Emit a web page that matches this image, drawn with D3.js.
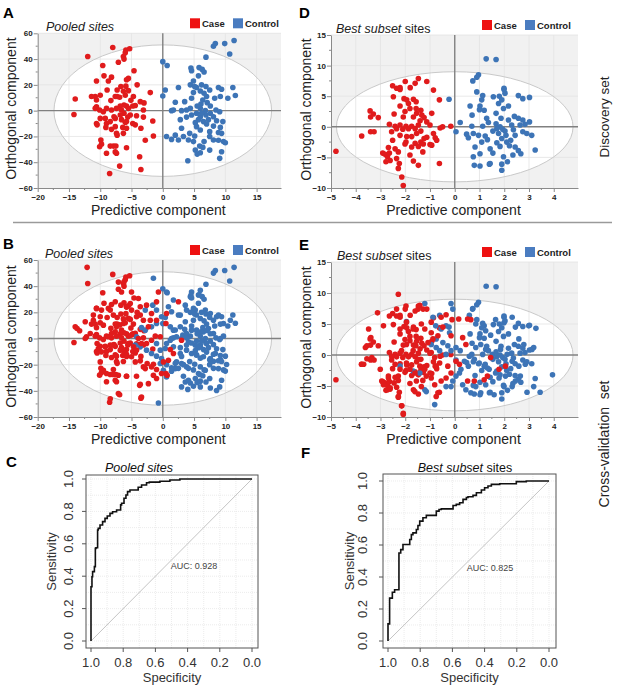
<!DOCTYPE html>
<html>
<head>
<meta charset="utf-8">
<script src="https://cdn.jsdelivr.net/npm/d3@7"></script>
<style>
  body { margin: 0; background: #fff; }
  text { font-family: "Liberation Sans", Arial, sans-serif; }
</style>
</head>
<body>
<svg id="fig" width="617" height="691"></svg>
<script>
// ---- data ----
const pooledXTicks = [-20, -15, -10, -5, 0, 5, 10, 15];
const pooledYTicks = [-60, -40, -20, 0, 20, 40, 60];
const bestXTicks = [-5, -4, -3, -2, -1, 0, 1, 2, 3, 4];
const bestYTicks = [-10, -5, 0, 5, 10, 15];
const rocTicks = [1, 0.8, 0.6, 0.4, 0.2, 0];

// pooled sites, discovery set (panel A)
const pooledDiscCase = [[-8.0,49],[-12.0,42],[-6.0,45],[-5.9,47],[-5.3,48],[-6.3,42],[-6.2,40],[-7.1,37.6],[-4.6,31],[-9.6,35],[-9.4,27],[-8.2,26],[-8.7,23],[-10.6,23],[-5.5,25],[-5.8,24],[-5.9,19],[-6.7,18.7],[-7.3,16],[-8.9,16],[-4.1,20],[-2.0,14],[-10.8,11],[-11.4,11],[-14.0,9],[-10.0,12],[-7.6,11],[-7.3,11],[-6.0,12],[-6.3,15],[-4.7,11],[-5.1,8],[-3.6,7],[-3.0,6],[-4.4,4],[-5.8,3.6],[-6.2,4.4],[-6.8,3.6],[-7.4,1.8],[-8.2,0.5],[-9.0,1.8],[-10.6,3],[-10.8,1.8],[-10.1,0.5],[-6.6,0.5],[-5.5,1.8],[-3.1,0.5],[-14.2,-3],[-6.2,-2],[-5.2,-3.4],[-4.2,-4],[-3.1,-5],[-1.6,-8],[-9.2,-6],[-10.0,-6],[-7.6,-6],[-6.6,-7],[-5.8,-8.5],[-4.4,-11],[-4.8,-10],[-10.6,-10],[-10.5,-11],[-9.0,-10],[-9.1,-13],[-7.6,-12.4],[-6.4,-13],[-8.2,-14.5],[-7.4,-17.6],[-6.3,-17.6],[-5.8,-13.7],[-3.5,-13.7],[-1.5,-19.7],[-7.3,-19],[-9.9,-22.8],[-9.8,-26],[-10.1,-28],[-8.4,-27.5],[-7.9,-27.5],[-7.5,-27.5],[-2.8,-23],[-5.8,-28.8],[-9.0,-33],[-7.4,-33],[-7.6,-32],[-3.7,-35.8],[-6.9,-43],[-3.5,-45.6],[-8.5,-48.7],[-6.0,-9],[-8.4,-8.5],[-7.8,-4.7],[-9.5,-0.8],[-6.8,-3.4],[-5.6,-5],[-10.6,8.3],[-5.5,15.5],[-6.9,10.4],[-8.3,7.8],[-4.8,3.6]];
const pooledDiscControl = [[8.4,52],[8.1,50],[9.9,52],[11.4,54.4],[10.7,44],[6.9,41.5],[0,38],[0.7,35],[4.5,33],[4.6,31],[5.8,33.4],[6.3,32],[6.6,30],[5.7,27],[4.9,23],[4.4,20],[6.2,20],[6.9,18.7],[5.4,18],[2.5,18],[0.4,16],[8.9,18],[11.2,18],[9.4,16.6],[7.5,16],[6.0,15.3],[4.9,14],[6.6,13.5],[0,11.4],[7.0,11],[9.2,11],[11.6,11.7],[10.4,9.6],[2.0,6.5],[3.5,7],[4.6,9.6],[6.4,8.3],[7.1,6.2],[6.1,5.2],[1.4,0],[3.0,0],[4.4,1.8],[6.0,1.8],[8.5,0.5],[9.1,-0.8],[7.6,-2],[5.4,-2],[4.6,-3.4],[3.8,-5],[6.0,-5],[6.9,-3.4],[8.1,-4.7],[2.8,-7],[5.7,-7],[6.5,-8.5],[7.3,-7],[8.6,-7.8],[9.6,-8.5],[5.2,-9.3],[7.0,-10.4],[3.0,-13.7],[5.4,-12.4],[8.1,-12],[9.2,-13],[6.0,-15],[7.5,-16.3],[8.9,-17],[9.4,-17.6],[4.3,-17.6],[0.6,-20],[1.4,-22.3],[2.0,-19],[2.5,-22.8],[3.3,-20],[5.1,-19.7],[7.5,-20],[8.1,-22.8],[8.9,-23],[9.7,-24],[10.0,-24.9],[6.6,-24],[4.9,-24],[4.1,-22.8],[5.9,-27.5],[6.4,-28.5],[7.5,-30.6],[5.2,-30.6],[5.5,-33.7],[6.0,-32.6],[9.4,-31.9],[9.1,-37],[4.0,-38.9],[3.8,0.5],[5.5,3.6],[7.6,3.6],[6.8,0],[6.2,-2],[1.7,0.5],[8.3,9.6],[5.1,18.7]];

// pooled sites, extra cross-validation samples (panel B = A + these)
const pooledCvCase = [[-12.1,54.4],[-7.1,43.1],[-6.2,43.4],[-5.0,35.5],[-6.6,35.5],[-0.7,35.5],[-3.9,30.6],[-7.6,28.1],[-6.2,27.3],[-5.2,26.8],[-6.7,25.5],[-5.8,24.3],[-5.0,21.7],[-3.6,24.3],[-1.0,28],[2.5,28.1],[-2.6,25.5],[-1.8,19.1],[-1.0,14],[0.5,11.5],[0.6,19.1],[-2.3,8.9],[-12.2,1.3],[-13.7,7.7],[-13.3,5.9],[-12.4,0],[-11.6,3.8],[-11.1,14],[-12.4,12.8],[-9.5,10.2],[-8.7,1.3],[-7.6,5.1],[-8.2,3.8],[-6.6,6.4],[-5.0,2.6],[-3.9,0],[-3.4,-3.8],[-2.6,-3.8],[-1.8,-1.3],[-1.2,1.8],[-0.4,1.3],[1.2,-8.4],[1.7,-11.5],[0.9,-16.6],[3.0,-1.3],[0.1,-17.9],[0.5,-26.8],[0.7,-28.1],[-0.2,-26.8],[-1.0,-23.7],[-1.8,-21.7],[-2.5,-19.1],[-3.1,-21.7],[-3.6,-17.1],[-4.4,-17.9],[-5.0,-14.0],[-5.8,-12.0],[-6.3,-8.9],[-6.8,-8.9],[-7.4,-13.5],[-7.9,-5.1],[-8.4,-5.1],[-9.2,-6.4],[-10.3,-7.7],[-10.5,-3.8],[-9.8,-10.2],[-10.0,-17.9],[-9.5,-24.3],[-9.0,-26.8],[-7.9,-23.7],[-7.1,-28.1],[-5.8,-28.8],[-4.2,-28.8],[-3.6,-35],[-2.3,-34.5],[-7.1,-42.1],[-3.4,-44.7],[-8.4,-46],[-1.5,-28.1],[-1.0,-30.6],[-4.7,-6.4],[-4.2,-8.9],[-5.5,-3.8],[-7.4,8.9],[-6.3,11.5],[-5.2,14.6],[-4.2,16.6],[-3.1,14.0],[-3.6,17.9],[-7.9,17.9],[-8.4,21.7],[-9.8,21.7],[-10.6,23.0],[-11.1,17.9],[-10.0,16.6]];
const pooledCvControl = [[-1.5,46],[-0.7,-49.3],[-1.6,25.5],[-2.8,21.7],[-1.0,21.7],[-0.2,16.6],[-1.0,11.5],[-1.8,8.9],[-3.4,8.4],[-2.8,6.4],[-4.2,1.3],[-4.4,-5.1],[-3.6,-6.4],[-2.6,-8.9],[-1.8,-11.5],[-1.0,-13.5],[-0.4,-8.9],[0.4,-7.7],[0.6,-3.8],[-1.0,-3.8],[-0.2,-15.3],[-0.4,-19.1],[0.1,-24.3],[0.6,-29.4],[1.4,-25.0],[2.0,-23.0],[3.3,-28.8],[3.6,-33.2],[4.1,-31.9],[3.0,-37.0],[4.4,-34.0],[6.0,-37.0],[7.6,-37.8],[8.6,-39.8],[6.9,-33.2],[4.9,-36.5],[1.4,20.4],[0.9,24.3],[1.7,29.4],[0.6,35.5],[2.8,17.9],[3.6,25.5],[4.4,31.9],[4.6,35.5],[6.0,36.8],[5.7,33.2],[5.2,21.7],[3.8,21.7],[2.8,8.9],[3.6,12.8],[1.7,6.4],[1.2,8.9],[2.2,1.3],[3.2,2.6],[3.8,3.8],[4.6,6.4],[5.4,6.4],[6.5,5.1],[7.3,7.7],[8.1,3.8],[9.2,0],[9.7,1.8],[6.8,21.7],[7.6,19.1],[8.1,14],[8.6,16.6],[9.7,11.5],[10.8,14.0],[3.8,-8.9],[4.6,-11.5],[5.4,-12.8],[6.5,-14],[7.6,-15.3],[8.4,-11.5],[6.0,-6.4],[7.0,-3.8],[5.2,-5.1],[4.1,-2.6],[2.8,-11.5],[2.2,-17.9],[3.0,-19.1],[3.8,-21.7],[6.0,-21.7],[6.8,-24.3],[8.1,-17.4],[9.2,-16.1],[10.0,-13.5],[10.2,-19.9],[5.7,-26.8],[1.7,-6.4],[1.2,-1.3]];

// best subset sites, discovery set (panel D)
const bestDiscCase = [[-4.8,-4.0],[-3.76,-1.5],[-3.4,-0.8],[-3.26,-0.8],[-3.42,2.6],[-3.29,2.1],[-3.09,1.5],[-3.4,1.6],[-2.91,-4.3],[-2.82,-4.5],[-2.72,-4.9],[-2.64,-4.3],[-2.68,-3.4],[-2.61,-5.5],[-2.78,-5.7],[-2.51,-2.2],[-2.41,-3.6],[-2.28,-4.1],[-2.35,-5.2],[-2.24,-6.0],[-2.28,-6.8],[-2.14,-8.2],[-2.08,-9.6],[-2.64,0.4],[-2.41,0.1],[-2.35,-0.3],[-2.21,0.3],[-2.1,-0.4],[-1.97,0.1],[-1.87,-0.3],[-1.74,0.1],[-1.6,-0.3],[-1.47,0.3],[-1.4,1.0],[-1.67,1.6],[-1.54,2.2],[-1.37,2.7],[-1.56,3.0],[-1.33,1.9],[-1.24,1.5],[-1.13,0.8],[-1.0,0.3],[-0.86,-1.1],[-0.79,-1.8],[-0.73,-2.2],[-0.93,-3.0],[-0.59,-0.2],[-0.49,0],[-0.16,0.1],[-0.62,-6.0],[-0.86,6.0],[-0.62,4.4],[-0.93,2.2],[-1.13,7.4],[-1.47,7.9],[-1.6,7.1],[-1.8,6.4],[-2.0,7.4],[-2.21,6.4],[-2.35,6.3],[-2.51,6.7],[-2.21,6.1],[-2.48,4.9],[-2.05,4.6],[-1.94,4.4],[-1.67,4.5],[-1.56,4.1],[-1.87,3.8],[-2.21,3.4],[-1.81,3.0],[-2.45,2.1],[-2.08,1.6],[-2.01,2.5],[-1.94,-1.6],[-2.21,-1.4],[-1.74,-1.6],[-1.97,-2.5],[-1.6,-2.7],[-1.37,-2.5],[-1.27,-2.8],[-1.47,-3.2],[-1.74,-3.3],[-2.01,-2.8],[-1.24,-1.9],[-1.0,-2.9],[-1.81,-4.6],[-1.67,-5.6],[-1.47,-6.3],[-1.29,-4.1],[-2.55,-0.8],[-1.54,-1.1],[-1.37,-0.7],[-1.13,-1.7]];
const bestDiscControl = [[1.27,11.1],[1.67,11.0],[0.96,8.5],[0.89,8.1],[0.73,7.5],[-0.23,4.5],[0.05,-0.8],[0.22,0.7],[0.62,3.4],[0.7,1.9],[0.69,0.1],[0.48,-1.2],[0.55,-1.8],[0.75,-1.1],[0.82,-3.3],[0.75,-4.9],[0.79,-6.3],[1.02,-4.4],[1.02,-6.4],[0.96,-1.4],[0.89,5.7],[1.13,5.1],[1.09,4.4],[1.02,3.4],[1.0,2.8],[1.19,2.7],[1.29,1.4],[1.36,0.7],[1.13,0.1],[1.23,-1.5],[1.32,-2.1],[1.09,-2.5],[1.43,-3.6],[1.54,-4.3],[1.43,-6.0],[1.56,4.9],[1.8,5.0],[1.77,3.8],[1.9,4.4],[1.99,6.1],[2.03,5.5],[1.99,6.3],[2.17,3.4],[1.97,3.0],[1.67,2.2],[1.87,1.4],[1.67,0.5],[1.83,0],[1.94,-0.4],[1.7,-0.3],[1.54,-0.7],[1.77,-1.1],[2.03,-0.7],[2.07,-1.4],[1.9,-1.9],[1.7,-2.6],[1.83,-3.2],[2.1,-2.5],[2.26,-2.2],[2.21,-3.1],[2.44,-3.3],[2.57,-3.9],[2.67,-4.4],[2.35,-4.6],[1.97,-4.9],[2.13,-5.7],[1.9,-6.1],[1.9,-7.1],[1.4,-6.1],[2.57,5.1],[2.75,4.6],[3.02,4.8],[2.41,1.7],[2.57,1.4],[2.75,1.1],[3.02,0.8],[2.84,0.4],[2.64,0.3],[2.3,0.3],[2.37,-0.5],[2.75,-0.8],[3.11,-1.4],[2.91,-1.1],[3.25,-3.8],[2.44,-1.4],[2.17,1.1]];

// best subset sites, extra cross-validation samples (panel E = D + these)
const bestCvCase = [[-2.28,9.8],[-3.12,6.8],[-1.97,7.9],[-2.35,7.4],[-2.64,6.3],[-2.88,4.7],[-3.48,4.2],[-3.39,2.8],[-3.55,1.5],[-3.61,1.2],[-3.35,-0.4],[-3.55,-0.6],[-3.77,-1.5],[-3.68,-1.5],[-3.01,-2.3],[-2.95,-4.2],[-2.88,-4.8],[-2.72,-5.6],[-2.61,-5.3],[-2.68,-3.7],[-2.45,-4.5],[-2.28,-6.7],[-2.15,-8.2],[-2.08,-9.4],[-2.28,-3.4],[-2.21,-2.3],[-2.41,-1.5],[-2.55,-0.2],[-2.15,0.7],[-1.95,1.7],[-1.81,2.3],[-1.57,1.5],[-1.68,0.7],[-1.48,-0.7],[-1.41,-1.8],[-1.21,-2.3],[-1.15,-3.4],[-0.95,-3.7],[-0.81,-4.8],[-0.68,-6.1],[-0.75,-6.7],[-0.55,-4.2],[-0.35,-3.7],[-0.15,-2.9],[-0.28,-1.8],[-0.61,-1.3],[-0.81,-0.4],[-0.95,0.4],[-1.08,2.0],[-0.88,2.6],[-0.68,3.1],[-0.48,4.5],[-0.55,6.1],[-0.35,6.5],[-0.11,5.7],[0.16,5.8],[0.52,5.8],[0.65,5.7],[0.32,2.8],[0.45,1.7],[0.19,-1.5],[0.52,-4.2],[0.79,-4.2],[1.19,-4.0],[1.32,-3.4],[1.45,-0.4],[1.79,-2.3],[2.05,-1.8],[-1.48,7.4],[-1.41,8.0],[-1.28,7.4],[-1.95,5.3],[-2.21,4.2],[-1.68,4.2],[-1.35,5.0],[-0.95,5.3],[-1.95,-1.3],[-1.81,-2.3],[-1.61,-2.9],[-1.55,-4.2],[-1.35,-5.1],[-1.61,-5.9],[-0.75,-1.8],[0.05,-1.0],[-0.15,3.1],[-1.21,4.2],[-0.95,3.6]];
const bestCvControl = [[-1.21,8.3],[-0.15,8.3],[-0.08,7.4],[-0.88,6.1],[-0.61,6.4],[-0.77,4.7],[-0.55,4.2],[-0.35,4.7],[-0.21,3.6],[-1.95,5.4],[-0.75,2.6],[-0.48,2.0],[-0.28,1.5],[-0.75,1.2],[-0.95,1.7],[-0.61,0.7],[-0.35,0.1],[-0.15,0.7],[0.05,1.2],[-2.21,-1.8],[-1.68,-2.6],[-1.41,-2.9],[-1.21,-5.6],[-1.15,-5.9],[-0.81,-8.0],[-0.35,-5.1],[-0.15,-5.1],[-0.08,-4.2],[0.05,-3.4],[0.19,-2.9],[0.32,-4.8],[0.45,-5.6],[0.65,-6.1],[0.85,-5.1],[1.05,-6.1],[1.25,-4.8],[1.59,-6.4],[0.72,7.4],[0.59,6.4],[0.85,5.0],[1.19,4.7],[1.25,3.9],[1.45,3.2],[1.65,5.7],[1.99,5.2],[2.32,6.1],[2.45,4.5],[2.99,4.7],[3.28,4.3],[2.59,2.6],[2.79,1.7],[3.12,0.9],[3.19,1.2],[3.95,-3.2],[3.45,-6.0],[2.92,-6.0],[3.19,-5.1],[2.65,-3.4],[2.45,-4.2],[2.32,-5.1],[1.99,-5.1],[2.05,-3.4],[1.79,-3.7],[0.59,-0.2],[0.79,-0.7],[0.99,-1.3],[1.19,-1.8],[1.39,-2.3],[1.65,-2.9],[0.85,1.2],[1.05,1.7],[1.25,0.9],[1.52,0.1],[1.85,0.9],[2.12,0.1],[2.32,-1.0],[2.59,-1.8],[2.85,-1.5],[0.39,-1.0],[0.25,-2.3]];

// ROC curves (specificity, sensitivity)
const rocPooledSpec = [1,1,0.994,0.990,0.979,0.973,0.969,0.959,0.955,0.944,0.928,0.913,0.899,0.882,0.866,0.841,0.816,0.810,0.795,0.783,0.773,0.758,0.748,0.707,0.686,0.655,0.638,0.572,0.510,0.448,0.428,0];
const rocPooledSens = [0,0.335,0.335,0.397,0.428,0.459,0.572,0.576,0.685,0.695,0.716,0.737,0.757,0.772,0.788,0.798,0.809,0.840,0.850,0.881,0.901,0.922,0.932,0.932,0.949,0.963,0.977,0.981,0.986,0.994,1,1];
const rocBestSpec = [1,1,0.990,0.990,0.973,0.969,0.959,0.948,0.932,0.932,0.921,0.907,0.890,0.865,0.855,0.845,0.824,0.814,0.803,0.783,0.762,0.741,0.700,0.683,0.669,0.596,0.576,0.555,0.534,0.513,0.503,0.472,0.451,0.420,0.400,0.379,0.358,0.306,0.203,0.141,0.099,0];
const rocBestSens = [0,0.107,0.107,0.268,0.268,0.305,0.305,0.320,0.320,0.519,0.550,0.571,0.603,0.603,0.634,0.665,0.676,0.697,0.722,0.749,0.770,0.785,0.785,0.812,0.822,0.826,0.847,0.854,0.864,0.885,0.897,0.902,0.910,0.927,0.944,0.958,0.969,0.979,0.983,0.996,1,1];
const aucPooled = 0.928;
const aucBest = 0.825;

const caseColor = "#e01b1c";
const controlColor = "#3d74b6";

const svg = d3.select("#fig");

// ---- OPLS-DA score plots ----
function scoresPanel(p) {
  const g = svg.append("g");
  const x = d3.scaleLinear().domain(p.xDom).range([p.left, p.right]);
  const y = d3.scaleLinear().domain(p.yDom).range([p.bottom, p.top]);

  g.append("rect")
    .attr("x", p.left).attr("y", p.top)
    .attr("width", p.right - p.left).attr("height", p.bottom - p.top)
    .attr("fill", "#f1f1f1");

  g.append("ellipse")
    .attr("cx", x(0)).attr("cy", y(0))
    .attr("rx", x(p.ell[0]) - x(0)).attr("ry", y(0) - y(p.ell[1]))
    .attr("fill", "#fff");

  // faint grid
  g.selectAll(".gx").data(p.xTicks.filter(d => d !== 0 && d !== p.xDom[0])).join("line")
    .attr("x1", d => x(d)).attr("x2", d => x(d))
    .attr("y1", p.top).attr("y2", p.bottom)
    .attr("stroke", "#e3e3e3").attr("stroke-width", 0.8);
  g.selectAll(".gy").data(p.yTicks.filter(d => d !== 0 && d !== p.yDom[0])).join("line")
    .attr("y1", d => y(d)).attr("y2", d => y(d))
    .attr("x1", p.left).attr("x2", p.right)
    .attr("stroke", "#e3e3e3").attr("stroke-width", 0.8);

  g.append("ellipse")
    .attr("cx", x(0)).attr("cy", y(0))
    .attr("rx", x(p.ell[0]) - x(0)).attr("ry", y(0) - y(p.ell[1]))
    .attr("fill", "none").attr("stroke", "#c9c9c9").attr("stroke-width", 1);

  // zero lines
  g.append("line").attr("x1", x(0)).attr("x2", x(0)).attr("y1", p.top).attr("y2", p.bottom)
    .attr("stroke", "#808080").attr("stroke-width", 1.4);
  g.append("line").attr("x1", p.left).attr("x2", p.right).attr("y1", y(0)).attr("y2", y(0))
    .attr("stroke", "#808080").attr("stroke-width", 1.4);

  // axes
  const ax = g.append("g").attr("transform", `translate(0,${p.bottom})`)
    .call(d3.axisBottom(x).tickValues(p.xTicks).tickSize(4).tickPadding(2).tickSizeOuter(0));
  const ay = g.append("g").attr("transform", `translate(${p.left},0)`)
    .call(d3.axisLeft(y).tickValues(p.yTicks).tickSize(4).tickPadding(1).tickSizeOuter(0));
  [ax, ay].forEach(a => {
    a.select(".domain").attr("stroke", "#8a8a8a");
    a.selectAll(".tick line").attr("stroke", "#8a8a8a");
    a.selectAll("text").attr("font-family", "Liberation Sans, Arial, sans-serif")
      .attr("font-size", 8).attr("font-weight", "bold").attr("fill", "#222");
  });
  // minor ticks
  g.selectAll(".mx").data(d3.pairs(p.xTicks).map(([a, b]) => (a + b) / 2)).join("line")
    .attr("x1", d => x(d)).attr("x2", d => x(d)).attr("y1", p.bottom).attr("y2", p.bottom + 2)
    .attr("stroke", "#8a8a8a");
  g.selectAll(".my").data(d3.pairs(p.yTicks).map(([a, b]) => (a + b) / 2)).join("line")
    .attr("y1", d => y(d)).attr("y2", d => y(d)).attr("x1", p.left - 2).attr("x2", p.left)
    .attr("stroke", "#8a8a8a");

  // points
  p.series.forEach(s => {
    g.append("g").selectAll("circle").data(s.pts).join("circle")
      .attr("cx", d => x(d[0])).attr("cy", d => y(d[1])).attr("r", 2.8)
      .attr("fill", s.color);
  });

  // axis titles
  g.append("text").attr("x", (p.left + p.right) / 2 - 1).attr("y", p.bottom + 27)
    .attr("text-anchor", "middle").attr("font-size", 14).attr("fill", "#222")
    .text("Predictive component");
  g.append("text")
    .attr("transform", `translate(${p.yTitleX},${(p.top + p.bottom) / 2 - 2}) rotate(-90)`)
    .attr("text-anchor", "middle").attr("font-size", 14).attr("fill", "#222")
    .text("Orthogonal component");

  // title
  const t = g.append("text").attr("x", p.titleX).attr("y", p.top - 2)
    .attr("font-size", 12.5).attr("fill", "#222");
  if (p.pooled) {
    t.append("tspan").attr("font-style", "italic").text("Pooled sites");
  } else {
    t.append("tspan").attr("font-style", "italic").text("Best subset");
    t.append("tspan").text(" sites");
  }

  // legend
  const lg = g.append("g").attr("transform", `translate(${p.legendX},${p.top - 15})`);
  lg.append("rect").attr("x", 0).attr("y", 0).attr("width", 10).attr("height", 10).attr("fill", "#ee1111");
  lg.append("text").attr("x", 12).attr("y", 9).attr("font-size", 9.5).attr("font-weight", "bold")
    .attr("fill", "#222").text("Case");
  lg.append("rect").attr("x", 43).attr("y", 0).attr("width", 10).attr("height", 10).attr("fill", "#4a7cc0");
  lg.append("text").attr("x", 55).attr("y", 9).attr("font-size", 9.5).attr("font-weight", "bold")
    .attr("fill", "#222").text("Control");

  // panel letter
  g.append("text").attr("x", p.letterX).attr("y", p.letterY)
    .attr("font-size", 15).attr("font-weight", "bold").attr("fill", "#000").text(p.letter);
}

scoresPanel({ letter: "A", letterX: 3, letterY: 18, pooled: true, titleX: 46, legendX: 190,
  left: 37.7, right: 281, top: 33.3, bottom: 188, yTitleX: 16,
  xDom: [-20, 18.9], yDom: [-60, 60], xTicks: pooledXTicks, yTicks: pooledYTicks, ell: [17.4, 51],
  series: [{ pts: pooledDiscCase, color: caseColor }, { pts: pooledDiscControl, color: controlColor }] });

scoresPanel({ letter: "D", letterX: 299, letterY: 18, pooled: false, titleX: 336, legendX: 482,
  left: 331, right: 578, top: 35, bottom: 188, yTitleX: 311,
  xDom: [-5, 4.98], yDom: [-10, 15], xTicks: bestXTicks, yTicks: bestYTicks, ell: [4.78, 9],
  series: [{ pts: bestDiscCase, color: caseColor }, { pts: bestDiscControl, color: controlColor }] });

scoresPanel({ letter: "B", letterX: 3, letterY: 249, pooled: true, titleX: 45, legendX: 190,
  left: 37.7, right: 281, top: 260, bottom: 417, yTitleX: 16,
  xDom: [-20, 18.9], yDom: [-60, 60], xTicks: pooledXTicks, yTicks: pooledYTicks, ell: [17.4, 51],
  series: [{ pts: pooledDiscCase, color: caseColor }, { pts: pooledCvControl, color: controlColor },
           { pts: pooledDiscControl, color: controlColor }, { pts: pooledCvCase, color: caseColor }] });

scoresPanel({ letter: "E", letterX: 299, letterY: 250, pooled: false, titleX: 337, legendX: 482,
  left: 331, right: 578, top: 262, bottom: 417, yTitleX: 311,
  xDom: [-5, 4.98], yDom: [-10, 15], xTicks: bestXTicks, yTicks: bestYTicks, ell: [4.78, 9],
  series: [{ pts: bestDiscCase, color: caseColor }, { pts: bestCvControl, color: controlColor },
           { pts: bestDiscControl, color: controlColor }, { pts: bestCvCase, color: caseColor }] });

// separator and row labels
svg.append("line").attr("x1", 13).attr("x2", 612).attr("y1", 222.5).attr("y2", 222.5)
  .attr("stroke", "#9a9a9a").attr("stroke-width", 1.5);
svg.append("text").attr("transform", "translate(609,117) rotate(-90)")
  .attr("text-anchor", "middle").attr("font-size", 13.5).attr("fill", "#222").text("Discovery set");
svg.append("text").attr("transform", "translate(609,444) rotate(-90)")
  .attr("text-anchor", "middle").attr("font-size", 14).attr("fill", "#222")
  .style("white-space", "pre").text("Cross-validation  set");

// ---- ROC curves ----
function rocPanel(p) {
  const g = svg.append("g");
  const x = d3.scaleLinear().domain([1, 0]).range([p.x1, p.x0]);
  const y = d3.scaleLinear().domain([0, 1]).range([p.y0, p.y1]);
  const grid = d3.range(0, 1.001, 0.1);

  g.selectAll(".gx").data(grid).join("line")
    .attr("x1", d => x(d)).attr("x2", d => x(d)).attr("y1", p.top).attr("y2", p.bottom)
    .attr("stroke", "#e4e4e4").attr("stroke-width", 0.7).attr("stroke-dasharray", "1,1");
  g.selectAll(".gy").data(grid).join("line")
    .attr("y1", d => y(d)).attr("y2", d => y(d)).attr("x1", p.left).attr("x2", p.right)
    .attr("stroke", "#e4e4e4").attr("stroke-width", 0.7).attr("stroke-dasharray", "1,1");

  g.append("line").attr("x1", x(1)).attr("y1", y(0)).attr("x2", x(0)).attr("y2", y(1))
    .attr("stroke", "#c4c4c4").attr("stroke-width", 1);

  g.append("rect").attr("x", p.left).attr("y", p.top)
    .attr("width", p.right - p.left).attr("height", p.bottom - p.top)
    .attr("fill", "none").attr("stroke", "#555").attr("stroke-width", 1);

  const pts = p.spec.map((s, i) => [s, p.sens[i]]);
  g.append("path").datum(pts)
    .attr("d", d3.line().x(d => x(d[0])).y(d => y(d[1])).curve(d3.curveStepBefore))
    .attr("fill", "none").attr("stroke", "#111").attr("stroke-width", 1.6);

  // ticks
  g.selectAll(".tx").data(rocTicks).join("line")
    .attr("x1", d => x(d)).attr("x2", d => x(d)).attr("y1", p.bottom).attr("y2", p.bottom + 4)
    .attr("stroke", "#555");
  g.selectAll(".ty").data(rocTicks).join("line")
    .attr("y1", d => y(d)).attr("y2", d => y(d)).attr("x1", p.left - 4).attr("x2", p.left)
    .attr("stroke", "#555");
  g.selectAll(".lx").data(rocTicks).join("text")
    .attr("x", d => x(d)).attr("y", 667).attr("text-anchor", "middle")
    .attr("font-size", 13).attr("fill", "#333").text(d3.format(".1f"));
  g.selectAll(".ly").data(rocTicks).join("text")
    .attr("transform", d => `translate(${p.yLabX},${y(d)}) rotate(-90)`)
    .attr("text-anchor", "middle").attr("font-size", 13).attr("fill", "#333").text(d3.format(".1f"));

  g.append("text").attr("x", (p.left + p.right) / 2).attr("y", 682).attr("text-anchor", "middle")
    .attr("font-size", 13).attr("fill", "#333").text("Specificity");
  g.append("text").attr("transform", `translate(${p.yTitleX},${(p.top + p.bottom) / 2}) rotate(-90)`)
    .attr("text-anchor", "middle").attr("font-size", 13).attr("fill", "#333").text("Sensitivity");

  g.append("text").attr("x", p.aucX).attr("y", p.aucY).attr("text-anchor", "middle")
    .attr("font-size", 9).attr("fill", "#444").text("AUC: " + d3.format(".3f")(p.auc));

  const t = g.append("text").attr("x", p.titleX).attr("y", 472).attr("text-anchor", "middle")
    .attr("font-size", 12.5).attr("fill", "#111");
  if (p.pooled) {
    t.append("tspan").attr("font-style", "italic").text("Pooled sites");
  } else {
    t.append("tspan").attr("font-style", "italic").text("Best subset");
    t.append("tspan").text(" sites");
  }

  g.append("text").attr("x", p.letterX).attr("y", p.letterY)
    .attr("font-size", 15).attr("font-weight", "bold").attr("fill", "#000").text(p.letter);
}

rocPanel({ letter: "C", letterX: 6, letterY: 467, pooled: true, titleX: 139,
  left: 86, right: 258, top: 475, bottom: 648, x0: 252, x1: 91, y0: 641, y1: 479,
  yLabX: 73, yTitleX: 56, aucX: 194, aucY: 569, auc: aucPooled,
  spec: rocPooledSpec, sens: rocPooledSens });

rocPanel({ letter: "F", letterX: 301, letterY: 458, pooled: false, titleX: 465,
  left: 383, right: 556, top: 474, bottom: 648, x0: 549, x1: 388, y0: 641, y1: 481,
  yLabX: 367, yTitleX: 354, aucX: 490, aucY: 571, auc: aucBest,
  spec: rocBestSpec, sens: rocBestSens });
</script>
</body>
</html>
